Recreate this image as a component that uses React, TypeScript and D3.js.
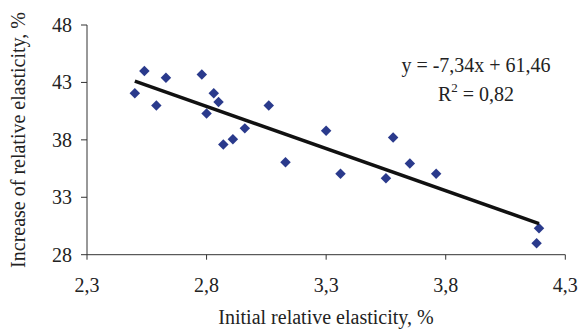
import React from "react";
import * as d3 from "d3";

const xValues = [2.50, 2.54, 2.59, 2.63, 2.78, 2.80, 2.83, 2.85, 2.87, 2.91, 2.96, 3.06, 3.13, 3.30, 3.36, 3.55, 3.58, 3.65, 3.76, 4.19, 4.18];
const yValues = [42.05, 44.0, 41.0, 43.4, 43.7, 40.3, 42.05, 41.3, 37.6, 38.05, 39.0, 41.0, 36.05, 38.8, 35.05, 34.65, 38.2, 35.95, 35.05, 30.3, 29.0];
const xTicks = [2.3, 2.8, 3.3, 3.8, 4.3];
const yTicks = [28, 33, 38, 43, 48];
const slope = -7.34;
const intercept = 61.46;
const equationLabel = "y = -7,34x + 61,46";
const r2Label = "0,82";
const xTitle = "Initial relative elasticity, %";
const yTitle = "Increase of relative elasticity, %";

const W = 578;
const H = 329;
const FONT = "'Liberation Serif', 'Times New Roman', serif";

export default function App() {
  const x = d3.scaleLinear().domain([2.3, 4.3]).range([87, 565.3]);
  const y = d3.scaleLinear().domain([28, 48]).range([254.7, 25]);
  const fmt = (v: number) => v.toFixed(1).replace(".", ",");
  const xMin = d3.min(xValues) as number;
  const xMax = d3.max(xValues) as number;
  const line = d3.line<number>().x((d) => x(d)).y((d) => y(slope * d + intercept));
  const diamond = d3.symbol().type(d3.symbolDiamond2).size(70)();
  const axisColor = "#333";

  return (
    <svg width={W} height={H} style={{ position: "absolute", left: 0, top: 0, background: "#fff" }} fontFamily={FONT}>
      {/* axes */}
      <line x1={x(2.3)} x2={x(2.3)} y1={y(48)} y2={y(28)} stroke={axisColor} strokeWidth={1} />
      <line x1={x(2.3)} x2={x(4.3)} y1={y(28)} y2={y(28)} stroke={axisColor} strokeWidth={1} />
      {yTicks.map((t) => (
        <g key={"y" + t}>
          <line x1={x(2.3) - 6} x2={x(2.3)} y1={y(t)} y2={y(t)} stroke={axisColor} />
          <text x={72} y={y(t)} dy="0.35em" textAnchor="end" fontSize={20} fill="#222">{t}</text>
        </g>
      ))}
      {xTicks.map((t) => (
        <g key={"x" + t}>
          <line x1={x(t)} x2={x(t)} y1={y(28)} y2={y(28) + 5} stroke={axisColor} />
          <text x={x(t)} y={292} textAnchor="middle" fontSize={20} fill="#222">{fmt(t)}</text>
        </g>
      ))}
      {/* points */}
      {xValues.map((xv, i) => (
        <path key={i} d={diamond as string} transform={`translate(${x(xv)},${y(yValues[i])})`} fill="#2a3a8c" />
      ))}
      {/* trend line */}
      <path d={line([xMin, xMax]) as string} stroke="#111" strokeWidth={3.5} fill="none" />
      {/* equation */}
      <text x={476} y={72} textAnchor="middle" fontSize={20} fill="#222">{equationLabel}</text>
      <text x={476} y={101} textAnchor="middle" fontSize={20} fill="#222">
        R<tspan fontSize={13} dy={-9}>2</tspan><tspan dy={9}> = {r2Label}</tspan>
      </text>
      {/* titles */}
      <text x={326} y={324} textAnchor="middle" fontSize={20} fill="#222">{xTitle}</text>
      <text transform={`translate(25,140) rotate(-90)`} textAnchor="middle" fontSize={20} fill="#222">{yTitle}</text>
    </svg>
  );
}
